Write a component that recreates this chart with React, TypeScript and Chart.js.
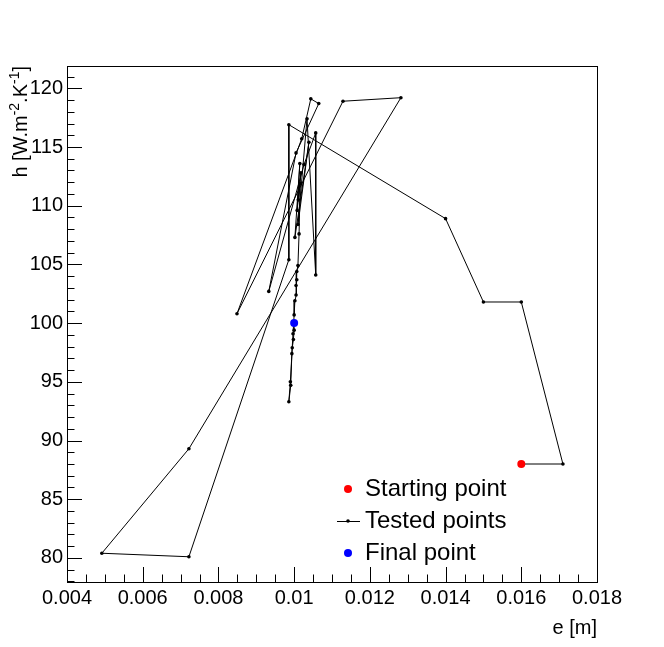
import React, { useEffect, useRef } from "react";
import { Chart, registerables } from "chart.js";
Chart.register(...registerables);

// ---- data ----
const startE = [0.016];
const startH = [88.0];
const testedE = [0.0160, 0.0171, 0.0160, 0.0150, 0.0140, 0.00986, 0.00986, 0.00722, 0.00492, 0.00722, 0.01282, 0.01129, 0.00849, 0.01020, 0.01044, 0.01065, 0.01005, 0.00933, 0.01026, 0.01057, 0.01057, 0.01034, 0.01010, 0.01039, 0.01002, 0.01015, 0.01008, 0.01018, 0.01011, 0.01016, 0.01013, 0.01010, 0.01007, 0.01007, 0.01005, 0.01005, 0.01002, 0.01000, 0.00997, 0.00994, 0.00991, 0.00986, 0.00990, 0.00995, 0.00998, 0.01000, 0.01000];
const testedH = [88.0, 88.0, 101.8, 101.8, 108.9, 116.9, 105.4, 80.1, 80.4, 89.3, 119.2, 118.9, 100.8, 115.7, 119.1, 118.7, 114.5, 102.7, 113.5, 116.2, 104.1, 117.4, 108.4, 115.4, 107.3, 113.6, 109.6, 112.8, 110.5, 111.9, 107.6, 104.9, 104.4, 103.7, 103.2, 102.4, 101.9, 100.7, 99.1, 97.4, 94.7, 93.3, 95.0, 97.9, 98.6, 99.4, 100.0];
const finalE = [0.0100];
const finalH = [100.0];

const xMajorTicks = [0.004, 0.006, 0.008, 0.010, 0.012, 0.014, 0.016, 0.018];
const xTickLabels = ["0.004", "0.006", "0.008", "0.01", "0.012", "0.014", "0.016", "0.018"];
const yMajorTicks = [80, 85, 90, 95, 100, 105, 110, 115, 120];
const yTickLabels = ["80", "85", "90", "95", "100", "105", "110", "115", "120"];
const xMin = 0.004, xMax = 0.018, xMinorStep = 0.0005;
const yMin = 77.95, yMax = 121.9, yMinorStep = 1;
const xTitle = "e [m]";
const yTitleParts = [
  { t: "h [W.m", sup: false },
  { t: "-2", sup: true },
  { t: ".K", sup: false },
  { t: "-1", sup: true },
  { t: "]", sup: false },
];
const legendLabels = ["Starting point", "Tested points", "Final point"];

const FONT = '"Liberation Sans", Arial, Helvetica, sans-serif';

const toPts = (xs: number[], ys: number[]) => xs.map((x, i) => ({ x, y: ys[i] }));

const bgPlugin = {
  id: "bg",
  beforeDraw(chart: any) {
    const c = chart.ctx;
    c.save();
    c.fillStyle = "#ffffff";
    c.fillRect(0, 0, chart.width, chart.height);
    c.restore();
  },
};

const axesPlugin = {
  id: "rootAxes",
  afterDatasetsDraw(chart: any) {
    const c = chart.ctx;
    const a = chart.chartArea;
    const xs = chart.scales.x;
    const ys = chart.scales.y;
    c.save();
    c.strokeStyle = "#000";
    c.lineWidth = 1;
    c.strokeRect(Math.round(a.left) + 0.5, Math.round(a.top) + 0.5, Math.round(a.right - a.left), Math.round(a.bottom - a.top));
    // x ticks
    c.beginPath();
    for (let v = xMin; v <= xMax + 1e-9; v += xMinorStep) {
      const px = Math.round(xs.getPixelForValue(v)) + 0.5;
      const major = xMajorTicks.some((m) => Math.abs(m - v) < 1e-7);
      const len = major ? 15 : 7.5;
      c.moveTo(px, a.bottom);
      c.lineTo(px, a.bottom - len);
    }
    // y ticks
    for (let v = Math.ceil(yMin); v <= yMax; v += yMinorStep) {
      const py = Math.round(ys.getPixelForValue(v)) + 0.5;
      const major = yMajorTicks.includes(v);
      const len = major ? 15 : 7.5;
      c.moveTo(a.left, py);
      c.lineTo(a.left + len, py);
    }
    c.stroke();
    // labels
    c.fillStyle = "#000";
    c.font = `20px ${FONT}`;
    c.textAlign = "center";
    c.textBaseline = "middle";
    xMajorTicks.forEach((v, i) => {
      c.fillText(xTickLabels[i], xs.getPixelForValue(v), a.bottom + 16);
    });
    c.textAlign = "right";
    yMajorTicks.forEach((v, i) => {
      c.fillText(yTickLabels[i], a.left - 4, ys.getPixelForValue(v));
    });
    // x title
    c.textAlign = "right";
    c.fillText(xTitle, a.right, a.bottom + 46);
    // y title (rotated, with superscripts)
    c.save();
    c.translate(27, a.top);
    c.rotate(-Math.PI / 2);
    c.textAlign = "left";
    c.textBaseline = "alphabetic";
    let total = 0;
    const widths = yTitleParts.map((p) => {
      c.font = `${p.sup ? 14 : 20}px ${FONT}`;
      const w = c.measureText(p.t).width;
      total += w;
      return w;
    });
    let x = -total;
    yTitleParts.forEach((p, i) => {
      c.font = `${p.sup ? 14 : 20}px ${FONT}`;
      c.fillText(p.t, x, p.sup ? -8 : 0);
      x += widths[i];
    });
    c.restore();
    c.restore();
  },
  afterDraw(chart: any) {
    const c = chart.ctx;
    const ds = chart.data.datasets;
    const rows = [489, 521, 553];
    const mx = 348;
    c.save();
    c.font = `24px ${FONT}`;
    c.fillStyle = "#000";
    c.textAlign = "left";
    c.textBaseline = "middle";
    legendLabels.forEach((lab, i) => {
      const d = ds[i];
      const y = rows[i];
      if (d.showLine) {
        c.strokeStyle = d.borderColor;
        c.lineWidth = 1;
        c.beginPath();
        c.moveTo(337, y + 0.5);
        c.lineTo(360, y + 0.5);
        c.stroke();
      }
      c.fillStyle = d.pointBackgroundColor;
      c.beginPath();
      c.arc(mx, y, d.pointRadius, 0, Math.PI * 2);
      c.fill();
      c.fillStyle = "#000";
      c.fillText(lab, 365, y);
    });
    c.restore();
  },
};

export default function App() {
  const ref = useRef<HTMLCanvasElement | null>(null);
  useEffect(() => {
    document.body.style.margin = "0";
    if (!ref.current) return;
    const chart = new Chart(ref.current, {
      type: "scatter",
      data: {
        datasets: [
          {
            label: legendLabels[0],
            data: toPts(startE, startH),
            pointRadius: 4,
            pointBackgroundColor: "#ff0000",
            pointBorderWidth: 0,
            borderColor: "#ff0000",
            showLine: false,
            order: 0,
          },
          {
            label: legendLabels[1],
            data: toPts(testedE, testedH),
            pointRadius: 1.8,
            pointBackgroundColor: "#000000",
            pointBorderWidth: 0,
            borderColor: "#000000",
            borderWidth: 1,
            showLine: true,
            tension: 0,
            order: 2,
          },
          {
            label: legendLabels[2],
            data: toPts(finalE, finalH),
            pointRadius: 4,
            pointBackgroundColor: "#0000ff",
            pointBorderWidth: 0,
            borderColor: "#0000ff",
            showLine: false,
            order: 0,
          },
        ] as any,
      },
      options: {
        responsive: false,
        animation: false,
        devicePixelRatio: 1,
        layout: { padding: { left: 67, right: 67, top: 66, bottom: 65 } },
        scales: {
          x: { type: "linear", min: xMin, max: xMax, display: false },
          y: { type: "linear", min: yMin, max: yMax, display: false },
        },
        plugins: { legend: { display: false }, tooltip: { enabled: false } },
        elements: { point: { hoverRadius: 0 } },
      } as any,
      plugins: [bgPlugin, axesPlugin],
    });
    return () => chart.destroy();
  }, []);
  return (
    <div style={{ position: "absolute", left: 0, top: 0, width: 664, height: 647 }}>
      <canvas ref={ref} width={664} height={647} />
    </div>
  );
}
